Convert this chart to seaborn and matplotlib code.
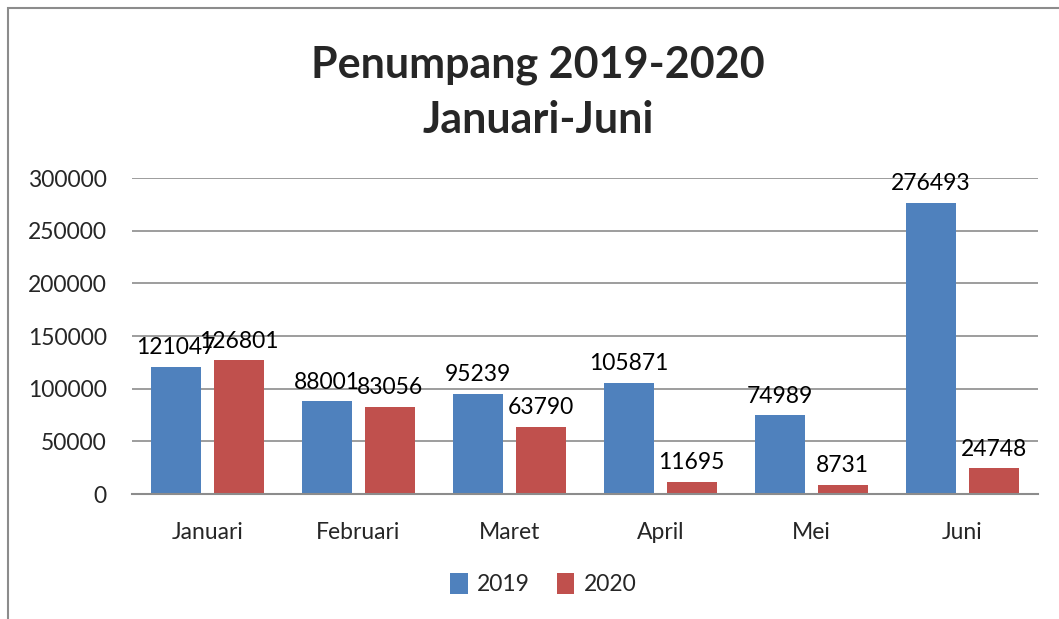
import numpy as np
import pandas as pd
import matplotlib
matplotlib.use("Agg")
import matplotlib.pyplot as plt
from matplotlib.patches import Rectangle
import seaborn as sns

months = ["Januari", "Februari", "Maret", "April", "Mei", "Juni"]
pax_2019 = [121047, 88001, 95239, 105871, 74989, 276493]
pax_2020 = [126801, 83056, 63790, 11695, 8731, 24748]
years = ["2019", "2020"]
colors = ["#4F81BD", "#C0504D"]

df = pd.DataFrame({
    "bulan": months * 2,
    "tahun": ["2019"] * 6 + ["2020"] * 6,
    "penumpang": pax_2019 + pax_2020,
})

sns.set_style("white")
plt.rcParams["font.family"] = ["Lato", "DejaVu Sans"]

fig = plt.figure(figsize=(10.59, 6.19), dpi=100)
ax = fig.add_axes([0.1246, 0.2019, 0.8555, 0.5105])

sns.barplot(data=df, x="bulan", y="penumpang", hue="tahun", order=months,
            hue_order=years, palette=colors, width=0.83, gap=0.2,
            saturation=1, linewidth=0, ax=ax, legend=True)

for cont in ax.containers:
    ax.bar_label(cont, labels=[f"{int(v)}" for v in cont.datavalues],
                 padding=6, fontsize=16.5, color="black")

ax.set_ylim(0, 300000)
ax.set_yticks(np.arange(0, 300001, 50000))
ax.set_xlim(-0.5, 5.5)
ax.yaxis.grid(True, color="#8c8c8c", linewidth=1.2)
ax.set_axisbelow(True)
for s in ["left", "right", "top"]:
    ax.spines[s].set_visible(False)
ax.spines["bottom"].set_color("#8c8c8c")
ax.spines["bottom"].set_linewidth(1.5)
ax.tick_params(axis="both", length=0, labelsize=16.5)
ax.tick_params(axis="y", pad=18)
ax.tick_params(axis="x", pad=20)
ax.set_xlabel("")
ax.set_ylabel("")

ax.legend(loc="center", bbox_to_anchor=(0.454, -0.285), ncol=2, frameon=False,
          fontsize=16.5, handlelength=0.75, handleheight=1.0, handletextpad=0.4,
          columnspacing=1.2)

fig.text(0.508, 0.850, "Penumpang 2019-2020\nJanuari-Juni", ha="center",
         va="center", fontsize=31, fontweight="bold", linespacing=1.45)

fig.patches.append(Rectangle((8 / 1059, -0.1), 1.2, 1 - 8 / 619 + 0.1,
                             transform=fig.transFigure, fill=False,
                             edgecolor="#8c8c8c", linewidth=1.5))

fig.savefig("out.png", dpi=100)
